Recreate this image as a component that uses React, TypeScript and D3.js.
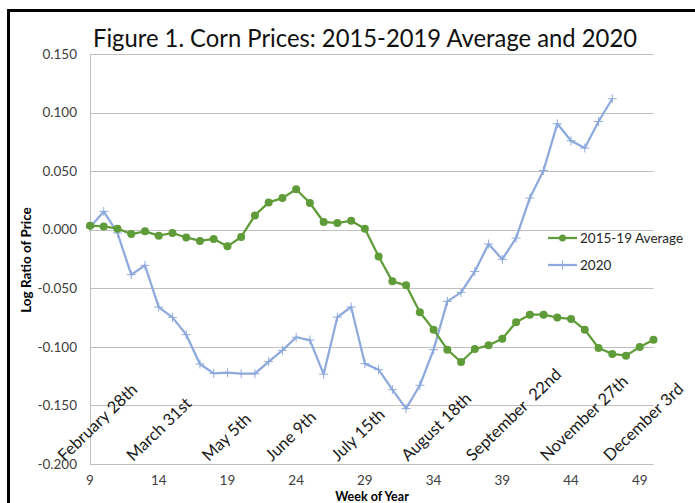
import { useEffect, useRef } from "react";
import * as d3 from "d3";

// week numbers for each series
const avgWeeks = d3.range(9, 51);
const avgValues = [
  0.0034, 0.0028, 0.0009, -0.0037, -0.0014, -0.0051, -0.0028, -0.0066, -0.0096,
  -0.0079, -0.0142, -0.0062, 0.0122, 0.0233, 0.027, 0.0345, 0.0228, 0.0066,
  0.0057, 0.0077, 0.0009, -0.0228, -0.0441, -0.0475, -0.0705, -0.0853, -0.1024,
  -0.1129, -0.1018, -0.0987, -0.093, -0.079, -0.0725, -0.0725, -0.075, -0.0762,
  -0.0853, -0.101, -0.106, -0.1075, -0.1001, -0.0939,
];

const weeks2020 = d3.range(9, 48);
const values2020 = [
  0.002, 0.0156, -0.0028, -0.0384, -0.0304, -0.066, -0.0748, -0.0896, -0.1146,
  -0.1226, -0.122, -0.1229, -0.1229, -0.1126, -0.103, -0.0918, -0.0942,
  -0.1233, -0.0746, -0.066, -0.1143, -0.1195, -0.1365, -0.1527, -0.1328,
  -0.1024, -0.0612, -0.0535, -0.0356, -0.0122, -0.0253, -0.0071, 0.027, 0.0506,
  0.0904, 0.0759, 0.0697, 0.0924, 0.1118,
];

const xTicks = [9, 14, 19, 24, 29, 34, 39, 44, 49];
const yTicks = [-0.2, -0.15, -0.1, -0.05, 0, 0.05, 0.1, 0.15];

// date annotations, placed at a week position along the bottom
const dateLabels = [
  "February 28th",
  "March 31st",
  "May 5th",
  "June 9th",
  "July 15th",
  "August 18th",
  "September  22nd",
  "November 27th",
  "December 3rd",
];
const dateWeeks = [7.0, 12.0, 17.5, 22.1, 26.9, 32.0, 36.7, 42.1, 46.7];

const seriesNames = ["2015-19 Average", "2020"];

const GREEN = "#5f9b38";
const BLUE = "#8eaadc";
const FONT = "Lato, 'Open Sans', sans-serif";

const App = () => {
  const ref = useRef<SVGSVGElement>(null);

  useEffect(() => {
    const svg = d3.select(ref.current);
    svg.selectAll("*").remove();

    const x = d3.scaleLinear().domain([9, 50]).range([90, 653.5]);
    const y = d3.scaleLinear().domain([-0.2, 0.15]).range([464, 54]);

    // outer frame
    svg
      .append("rect")
      .attr("x", 8.5)
      .attr("y", 10.5)
      .attr("width", 720)
      .attr("height", 520)
      .attr("fill", "white")
      .attr("stroke", "black")
      .attr("stroke-width", 3);

    // gridlines
    svg
      .append("g")
      .selectAll("line")
      .data(yTicks)
      .enter()
      .append("line")
      .attr("x1", x(9))
      .attr("x2", x(50))
      .attr("y1", (d) => Math.round(y(d)) + 0.5)
      .attr("y2", (d) => Math.round(y(d)) + 0.5)
      .attr("stroke", "#c0c0c0")
      .attr("stroke-width", 1);

    svg
      .append("line")
      .attr("x1", x(9) + 0.5)
      .attr("x2", x(9) + 0.5)
      .attr("y1", y(0.15))
      .attr("y2", y(-0.2))
      .attr("stroke", "#c0c0c0");

    // y tick labels
    svg
      .append("g")
      .selectAll("text")
      .data(yTicks)
      .enter()
      .append("text")
      .attr("x", 77)
      .attr("y", (d) => y(d))
      .attr("dy", "0.35em")
      .attr("text-anchor", "end")
      .attr("font-size", 13.5)
      .attr("fill", "#404040")
      .text((d) => (Math.abs(d) < 1e-9 ? "0.000" : d.toFixed(3)));

    // x tick labels
    svg
      .append("g")
      .selectAll("text")
      .data(xTicks)
      .enter()
      .append("text")
      .attr("x", (d) => x(d))
      .attr("y", 485)
      .attr("text-anchor", "middle")
      .attr("font-size", 13.5)
      .attr("fill", "#404040")
      .text((d) => d);

    // rotated date labels
    svg
      .append("g")
      .selectAll("text")
      .data(dateLabels)
      .enter()
      .append("text")
      .attr("transform", (d, i) => `translate(${x(dateWeeks[i]) + 2},${y(-0.2) - 2}) rotate(-44)`)
      .attr("font-size", 16.5)
      .attr("fill", "#1a1a1a")
      .style("white-space", "pre")
      .text((d) => d);

    // axis titles
    svg
      .append("text")
      .attr("transform", `translate(31,260) rotate(-90)`)
      .attr("text-anchor", "middle")
      .attr("font-size", 13.5)
      .attr("font-weight", "bold")
      .text("Log Ratio of Price");

    svg
      .append("text")
      .attr("x", 372)
      .attr("y", 501)
      .attr("text-anchor", "middle")
      .attr("font-size", 12.5)
      .attr("font-weight", "bold")
      .text("Week of Year");

    // title
    svg
      .append("text")
      .attr("x", 365)
      .attr("y", 47)
      .attr("text-anchor", "middle")
      .attr("font-size", 25)
      .attr("textLength", 544)
      .attr("lengthAdjust", "spacingAndGlyphs")
      .attr("fill", "#111")
      .text("Figure 1. Corn Prices: 2015-2019 Average and 2020");

    const line = d3
      .line<[number, number]>()
      .x((d) => x(d[0]))
      .y((d) => y(d[1]));

    const pts2020: [number, number][] = weeks2020.map((w, i) => [w, values2020[i]]);
    const ptsAvg: [number, number][] = avgWeeks.map((w, i) => [w, avgValues[i]]);

    // 2020 series
    svg
      .append("path")
      .attr("d", line(pts2020))
      .attr("fill", "none")
      .attr("stroke", BLUE)
      .attr("stroke-width", 2.25)
      .attr("stroke-linejoin", "round");

    const plus = (g, cx, cy) => {
      g.append("path")
        .attr("d", `M${cx - 4.5},${cy}H${cx + 4.5}M${cx},${cy - 4.5}V${cy + 4.5}`)
        .attr("stroke", BLUE)
        .attr("stroke-width", 1);
    };
    const gPlus = svg.append("g");
    pts2020.forEach((p) => plus(gPlus, x(p[0]), y(p[1])));

    // average series
    svg
      .append("path")
      .attr("d", line(ptsAvg))
      .attr("fill", "none")
      .attr("stroke", GREEN)
      .attr("stroke-width", 2.25)
      .attr("stroke-linejoin", "round");

    svg
      .append("g")
      .selectAll("circle")
      .data(ptsAvg)
      .enter()
      .append("circle")
      .attr("cx", (d) => x(d[0]))
      .attr("cy", (d) => y(d[1]))
      .attr("r", 4)
      .attr("fill", GREEN);

    // legend
    const legend = svg.append("g");
    [238, 265].forEach((ly, i) => {
      legend
        .append("line")
        .attr("x1", 548)
        .attr("x2", 577)
        .attr("y1", ly)
        .attr("y2", ly)
        .attr("stroke", i === 0 ? GREEN : BLUE)
        .attr("stroke-width", 2.25);
      if (i === 0) {
        legend.append("circle").attr("cx", 562.5).attr("cy", ly).attr("r", 3.5).attr("fill", GREEN);
      } else {
        plus(legend, 562.5, ly);
      }
      legend
        .append("text")
        .attr("x", 580)
        .attr("y", ly)
        .attr("dy", "0.35em")
        .attr("font-size", 13.5)
        .attr("fill", "#262626")
        .text(seriesNames[i]);
    });
  }, []);

  return (
    <svg
      ref={ref}
      width={695}
      height={503}
      style={{ position: "absolute", left: 0, top: 0, fontFamily: FONT, background: "white" }}
    />
  );
};

export default App;
